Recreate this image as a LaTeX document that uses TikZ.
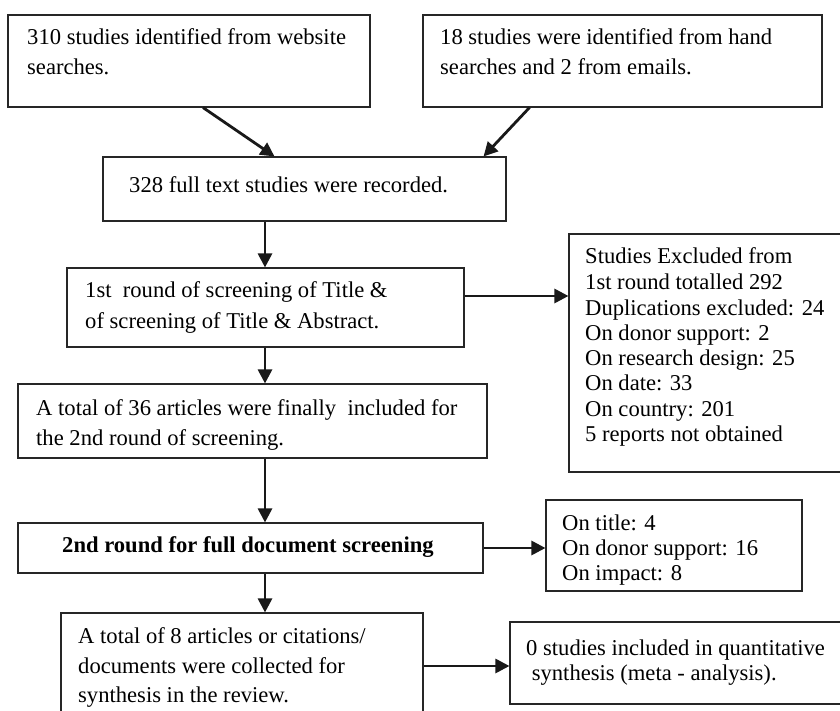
\documentclass[tikz,border=0pt]{standalone}
\usepackage{fontspec}
\setmainfont{Liberation Serif}
\usetikzlibrary{arrows.meta}

\begin{document}
\begin{tikzpicture}[x=1pt, y=-1pt,
    box/.style={draw=black!85, line width=1.1pt, inner sep=0pt},
    txt/.style={anchor=base west, inner sep=0pt, font=\fontsize{22.6}{26}\selectfont},
    arr/.style={line width=2.8pt, draw=black!90, -{Triangle[length=14pt,width=14pt]}}]
    \useasboundingbox (0,0) rectangle (840,711);
    \clip (0,0) rectangle (840,711);
    \foreach \n/\x/\y/\w/\h in {%
        web/189/61/362/92, hand/622.5/61/399/92, rec/304.5/189/403/64,
        first/265.5/307.5/397/79, excl/719.5/353/301/238, incl/252.5/421/469/74,
        second/250.5/548/465/50, reasons/674/545.5/256/91,
        final/242/666/362/106, quant/690/663/360/82} {
      \node[box, minimum width=\w, minimum height=\h] (\n) at (\x,\y) {};
    }
    \foreach \x/\y/\t [count=\i] in {%
        27/45/{310 studies identified from website},
        27/75/{searches.},
        440/45/{18 studies were identified from hand},
        440/75/{searches and 2 from emails.},
        129/193/{328 full text studies were recorded.},
        85/298/{1st\ \ round of screening of Title \&},
        85/328/{of screening of Title \& Abstract.},
        585/263/{Studies Excluded from},
        585/289/{1st round totalled 292},
        585/315/{Duplications excluded: 24},
        585/340/{On donor support: 2},
        585/365/{On research design: 25},
        585/390/{On date: 33},
        585/416/{On country: 201},
        585/441/{5 reports not obtained},
        36/415/{A total of 36 articles were finally\ \ included for},
        36/445/{the 2nd round of screening.},
        62/552/{\textbf{2nd round for full document screening}},
        562/530/{On title: 4},
        562/555/{On donor support: 16},
        562/580/{On impact: 8},
        78/643/{A total of 8 articles or citations/},
        78/673/{documents were collected for},
        78/702/{synthesis in the review.},
        526/655/{0 studies included in quantitative},
        526/680/{\ synthesis (meta - analysis).}} {
      \node[txt] (line\i) at (\x,\y) {\t};
    }
    \coordinate (spine) at (265,0);
    \foreach \a/\b in {rec/first, first/incl, incl/second, second/final} {
      \draw[arr] (spine |- \a.south) -- (spine |- \b.north);
    }
    \coordinate (fe) at ([yshift=11.5]first.east);
    \draw[arr] ([xshift=14]web.south) -- ([xshift=-30]rec.north);
    \draw[arr] ([xshift=-93]hand.south) -- ([xshift=-23]rec.north east);
    \draw[arr] (fe) -- (fe -| excl.west);
    \draw[arr] (second.east) -- (second.east -| reasons.west);
    \draw[arr] (final.east) -- (final.east -| quant.west);
  \end{tikzpicture}
\end{document}
